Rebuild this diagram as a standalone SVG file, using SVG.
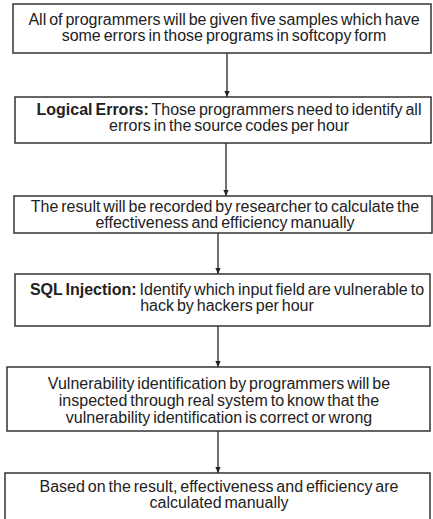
<svg xmlns="http://www.w3.org/2000/svg" width="433" height="519" viewBox="0 0 433 519">
<defs>
<marker id="ah" viewBox="0 0 6 6" refX="6" refY="3" markerWidth="6" markerHeight="6" markerUnits="userSpaceOnUse" orient="auto">
<path d="M0,0.4 L6,3 L0,5.6 Z" fill="#222"/>
</marker>
<style>
.box{fill:#fff;stroke:#333;stroke-width:1.5}
text{font-family:"Liberation Sans",Arial,sans-serif;font-size:16px;fill:#222;text-anchor:middle;word-spacing:-1.5px}
.b{font-weight:bold}
.conn line{stroke:#222;stroke-width:1.3;marker-end:url(#ah)}
</style>
</defs>
<rect width="433" height="519" fill="#fff"/>
<g class="conn" id="connectors">
<line x1="227" y1="53" x2="227" y2="97"/>
<line x1="226" y1="143" x2="226" y2="196"/>
<line x1="218" y1="233" x2="218" y2="274"/>
<line x1="218" y1="326" x2="218" y2="367"/>
<line x1="218" y1="431" x2="218" y2="473"/>
</g>
<g id="n1">
<rect class="box" x="13" y="4" width="418" height="49"/>
<text x="224" y="25">All of programmers will be given five samples which have</text>
<text x="224" y="41">some errors in those programs in softcopy form</text>
</g>
<g id="n2">
<rect class="box" x="15" y="97" width="416" height="46"/>
<text x="229" y="115"><tspan class="b">Logical Errors:</tspan> Those programmers need to identify all</text>
<text x="229" y="131">errors in the source codes per hour</text>
</g>
<g id="n3">
<rect class="box" x="14" y="196" width="418" height="37"/>
<text x="225" y="212">The result will be recorded by researcher to calculate the</text>
<text x="225" y="228">effectiveness and efficiency manually</text>
</g>
<g id="n4">
<rect class="box" x="15" y="274" width="415" height="52"/>
<text x="227" y="295"><tspan class="b">SQL Injection:</tspan> Identify which input field are vulnerable to</text>
<text x="227" y="311">hack by hackers per hour</text>
</g>
<g id="n5">
<rect class="box" x="7" y="367" width="423" height="64"/>
<text x="219" y="389">Vulnerability identification by programmers will be</text>
<text x="219" y="406">inspected through real system to know that the</text>
<text x="219" y="423">vulnerability identification is correct or wrong</text>
</g>
<g id="n6">
<rect class="box" x="5" y="473" width="425" height="52"/>
<text x="219" y="492">Based on the result, effectiveness and efficiency are</text>
<text x="219" y="508">calculated manually</text>
</g>
</svg>
